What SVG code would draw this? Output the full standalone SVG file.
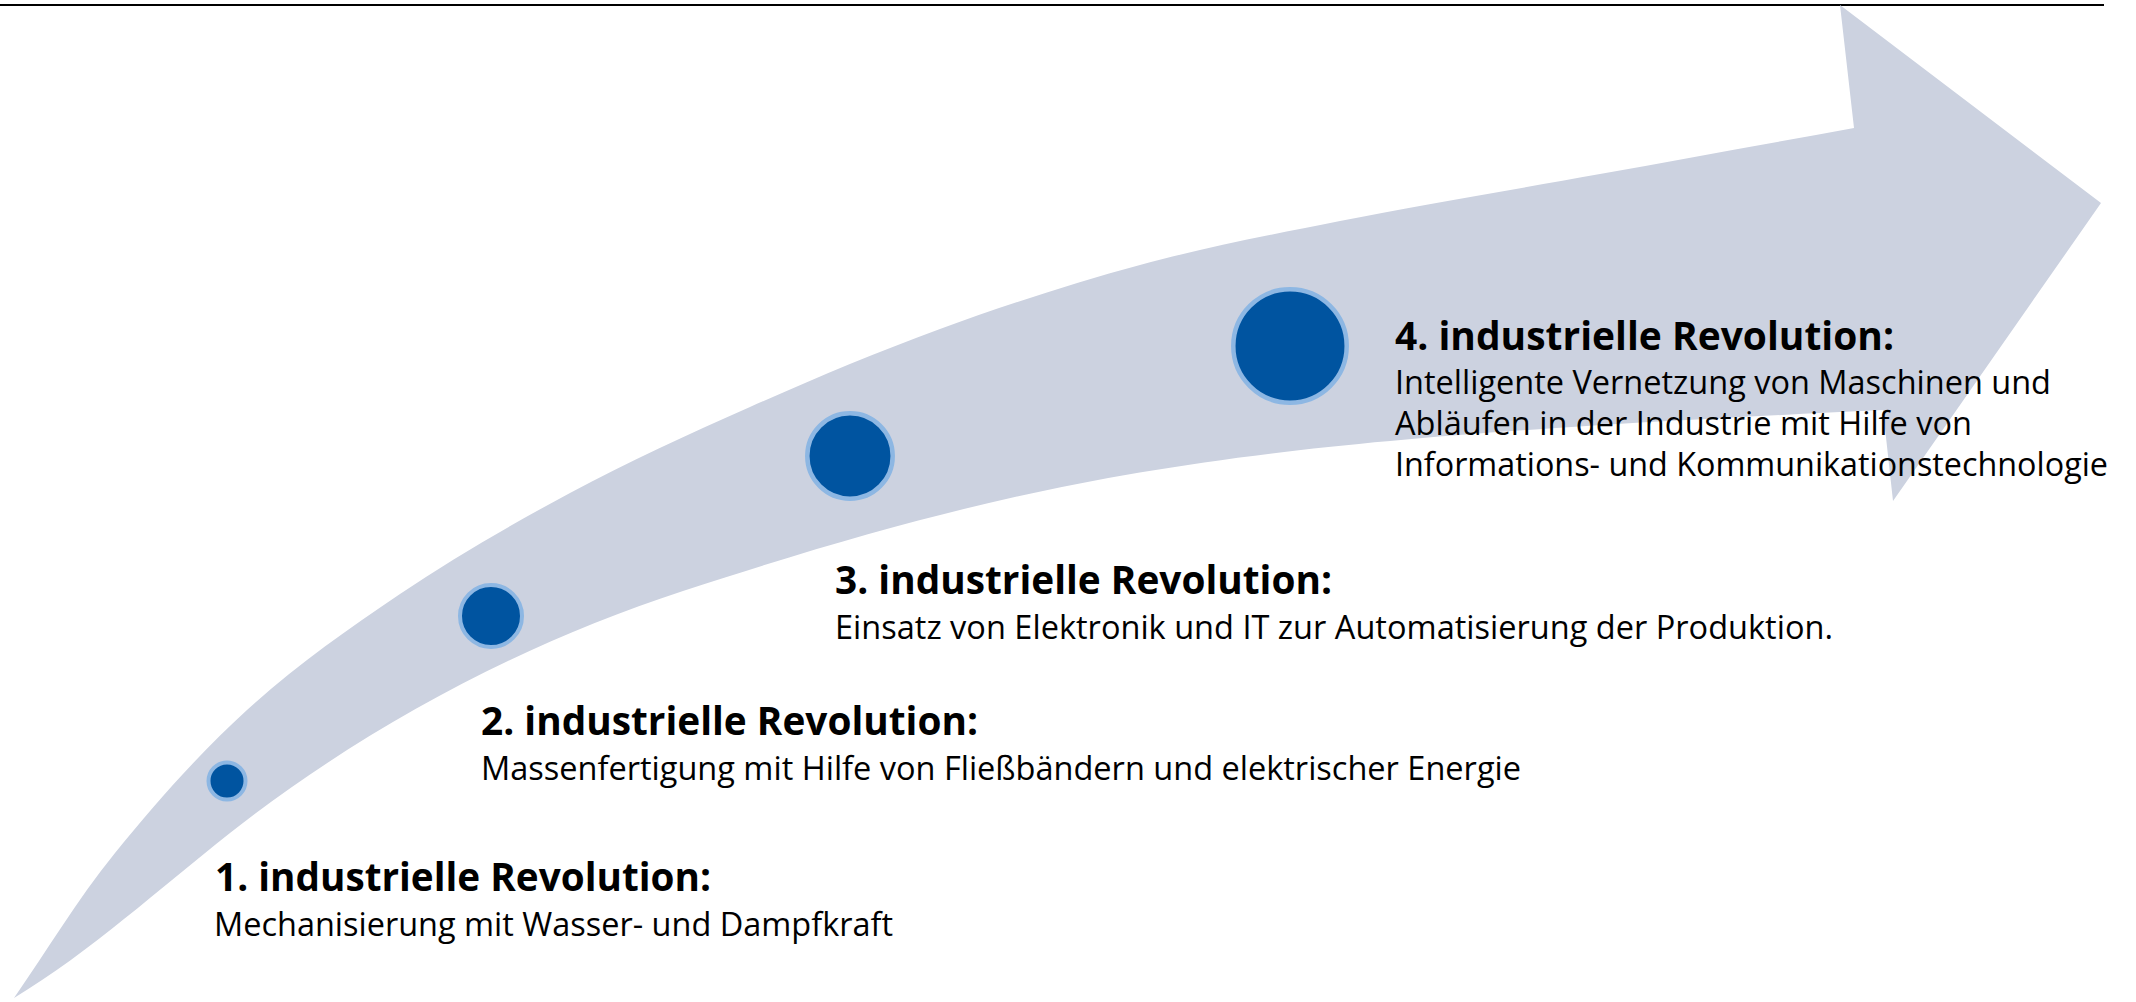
<svg xmlns="http://www.w3.org/2000/svg" width="2136" height="1002" viewBox="0 0 2136 1002">
<style>
.title{font-family:"Open Sans","Noto Sans","Liberation Sans",sans-serif;font-weight:700;font-size:39px;fill:#000}
.sub{font-family:"Open Sans","Noto Sans","Liberation Sans",sans-serif;font-weight:400;font-size:33px;fill:#000}
.dot{fill:#0054A0;stroke:#8DB7E3}
</style>
<rect width="2136" height="1002" fill="#FFFFFF"/>
<line x1="0" y1="5" x2="2104" y2="5" stroke="#000" stroke-width="2"/>
<g id="arrow">
<path fill="#CCD2E0" d="M 14,998 C 47.7,949.7 76.2,901 115,853 C 153.8,805 199.5,753.2 247,710 C 294.5,666.8 346.2,630.2 400,594 C 453.8,557.8 511.7,524.2 570,493 C 628.3,461.8 688.3,434.3 750,407 C 811.7,379.7 875,352.7 940,329 C 1005,305.3 1073.3,283 1140,265 C 1206.7,247 1263.3,236.2 1340,221 C 1416.7,205.8 1514.3,189.5 1600,174 C 1685.7,158.5 1769.3,143.3 1854,128 L 1840,5 L 2101,203 L 1893,501 L 1883,410 C 1251,440 1071.1,464.5 683,591 C 521.4,643.6 363.2,728.3 230,833 C 159.3,888.6 91,951.4 14,998 Z"/>
</g>
<g id="connectors"></g>
<g id="node1">
<circle class="dot" cx="227" cy="781" r="18.5" stroke-width="4"/>
<text class="title" x="215" y="891" textLength="496" lengthAdjust="spacingAndGlyphs">1. industrielle Revolution:</text>
<text class="sub" x="214" y="936" textLength="679" lengthAdjust="spacingAndGlyphs">Mechanisierung mit Wasser- und Dampfkraft</text>
</g>
<g id="node2">
<circle class="dot" cx="491" cy="616" r="31" stroke-width="4"/>
<text class="title" x="481" y="735" textLength="497" lengthAdjust="spacingAndGlyphs">2. industrielle Revolution:</text>
<text class="sub" x="481" y="780" textLength="1040" lengthAdjust="spacingAndGlyphs">Massenfertigung mit Hilfe von Fließbändern und elektrischer Energie</text>
</g>
<g id="node3">
<circle class="dot" cx="850" cy="456" r="42.7" stroke-width="4.5"/>
<text class="title" x="835" y="594" textLength="497" lengthAdjust="spacingAndGlyphs">3. industrielle Revolution:</text>
<text class="sub" x="835" y="639" textLength="998" lengthAdjust="spacingAndGlyphs">Einsatz von Elektronik und IT zur Automatisierung der Produktion.</text>
</g>
<g id="node4">
<circle class="dot" cx="1290" cy="346" r="56.7" stroke-width="4.5"/>
<text class="title" x="1395" y="350" textLength="499" lengthAdjust="spacingAndGlyphs">4. industrielle Revolution:</text>
<text class="sub" x="1395" y="394" textLength="656" lengthAdjust="spacingAndGlyphs">Intelligente Vernetzung von Maschinen und</text>
<text class="sub" x="1395" y="435" textLength="577" lengthAdjust="spacingAndGlyphs">Abläufen in der Industrie mit Hilfe von</text>
<text class="sub" x="1395" y="476" textLength="713" lengthAdjust="spacingAndGlyphs">Informations- und Kommunikationstechnologie</text>
</g>
</svg>
